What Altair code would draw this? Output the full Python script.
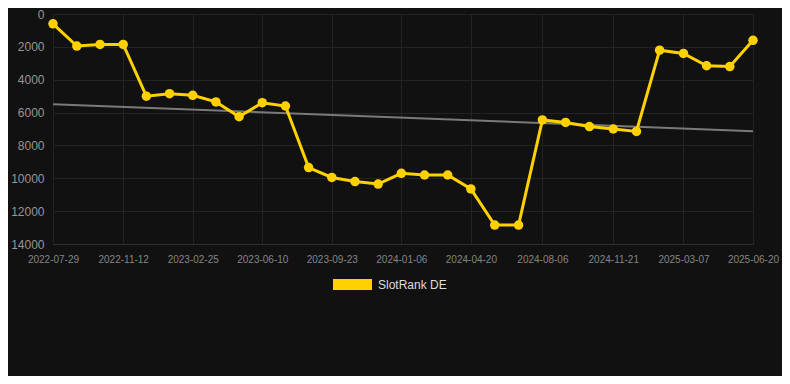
import altair as alt
import pandas as pd

# ---- data ----
dates = [
    "2022-07-29", "2022-09-03", "2022-10-08", "2022-11-12", "2022-12-17",
    "2023-01-21", "2023-02-25", "2023-04-01", "2023-05-06", "2023-06-10",
    "2023-07-15", "2023-08-19", "2023-09-23", "2023-10-28", "2023-12-02",
    "2024-01-06", "2024-02-10", "2024-03-16", "2024-04-20", "2024-05-26",
    "2024-07-01", "2024-08-06", "2024-09-10", "2024-10-16", "2024-11-21",
    "2024-12-26", "2025-01-30", "2025-03-07", "2025-04-11", "2025-05-16",
    "2025-06-20",
]
ranks = [
    600, 1950, 1850, 1850, 5000, 4850, 4950, 5350, 6250, 5400,
    5600, 9350, 9950, 10200, 10350, 9700, 9800, 9800, 10650, 12850,
    12850, 6450, 6600, 6850, 7000, 7150, 2200, 2400, 3150, 3200,
    1600,
]
series_name = "SlotRank DE"
x_tick_labels = [
    "2022-07-29", "2022-11-12", "2023-02-25", "2023-06-10", "2023-09-23",
    "2024-01-06", "2024-04-20", "2024-08-06", "2024-11-21", "2025-03-07",
    "2025-06-20",
]
y_ticks = [0, 2000, 4000, 6000, 8000, 10000, 12000, 14000]

YELLOW = "#FFD100"
BG = "#111111"
GRID = "#232323"

df = pd.DataFrame({"date": dates, "rank": ranks, "series": series_name})
x_tick_values = [int(pd.Timestamp(s).value // 10**6) for s in x_tick_labels]

base = alt.Chart(df).transform_calculate(
    t="time(toDate(datum.date))"
)

x_enc = alt.X(
    "t:T",
    scale=alt.Scale(type="utc"),
    axis=alt.Axis(
        values=x_tick_values,
        labelExpr="utcFormat(datum.value, '%Y-%m-%d')",
        labelOverlap=False,
        labelFlush=False,
        title=None,
        grid=True,
        gridColor=GRID,
        domain=True,
        domainColor="#2e2e2e",
        ticks=False,
        labelPadding=10,
        labelFontSize=10,
        labelColor="#858585",
        labelFont="Liberation Sans",
    ),
)
y_enc = alt.Y(
    "rank:Q",
    scale=alt.Scale(domain=[0, 14000], reverse=True, nice=False),
    axis=alt.Axis(
        values=y_ticks,
        format="d",
        title=None,
        grid=True,
        gridColor=GRID,
        domain=False,
        ticks=False,
        labelPadding=9,
        labelFontSize=12,
        labelColor="#969696",
        labelFont="Liberation Sans",
    ),
)

trend = base.transform_regression("t", "rank").mark_line(
    color="#7a7a7a", strokeWidth=2
).encode(x=x_enc, y=y_enc)

line = base.mark_line(strokeWidth=3).encode(
    x=x_enc,
    y=y_enc,
    color=alt.Color(
        "series:N",
        scale=alt.Scale(domain=[series_name], range=[YELLOW]),
        legend=alt.Legend(
            title=None,
            orient="none",
            legendX=280,
            legendY=251,
            direction="horizontal",
            symbolType="M-1,-0.28L1,-0.28L1,0.28L-1,0.28Z",
            symbolSize=1521,
            symbolStrokeWidth=0,
            symbolFillColor=YELLOW,
            labelColor="#dddddd",
            labelFontSize=12,
            labelFont="Liberation Sans",
            labelOffset=6,
            padding=0,
        ),
    ),
)

points = base.mark_point(filled=True, size=90, opacity=1, color=YELLOW).encode(
    x=x_enc, y=y_enc
)

chart = (
    alt.layer(trend, line, points)
    .properties(
        width=700,
        height=230,
        background=BG,
        padding={"left": 45, "top": 6, "right": 29, "bottom": 132},
        autosize=alt.AutoSizeParams(type="none"),
    )
    .configure_view(stroke=None)
)

chart.save("out.html", embed_options={"renderer": "svg", "actions": False})
